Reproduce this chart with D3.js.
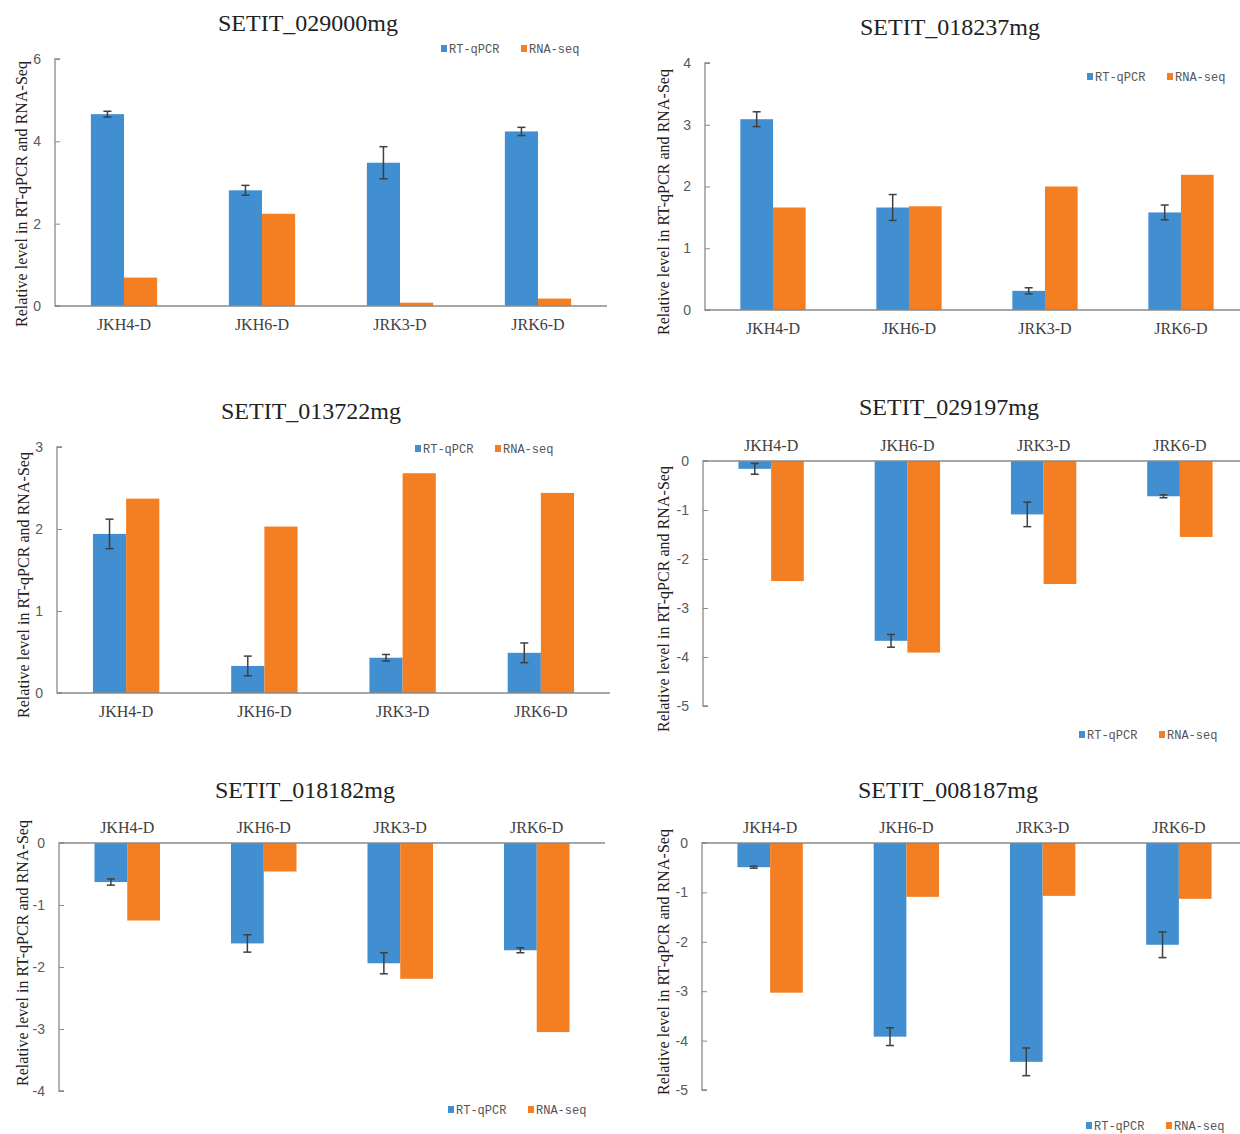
<!DOCTYPE html>
<html>
<head>
<meta charset="utf-8">
<script src="https://cdn.jsdelivr.net/npm/d3@7"></script>
<style>
  body { margin: 0; background: #fff; }
  svg { display: block; }
</style>
</head>
<body>
<script>
// data
const categories = ["JKH4-D", "JKH6-D", "JRK3-D", "JRK6-D"];
const seriesNames = ["RT-qPCR", "RNA-seq"];
const genes = ["SETIT_029000mg", "SETIT_018237mg", "SETIT_013722mg", "SETIT_029197mg", "SETIT_018182mg", "SETIT_008187mg"];

const qpcr029000 = [4.66, 2.81, 3.48, 4.24];
const rnaseq029000 = [0.69, 2.24, 0.08, 0.18];
const err029000 = [0.07, 0.12, 0.39, 0.10];

const qpcr018237 = [3.09, 1.66, 0.31, 1.58];
const rnaseq018237 = [1.66, 1.68, 2.00, 2.19];
const err018237 = [0.12, 0.21, 0.05, 0.12];

const qpcr013722 = [1.94, 0.33, 0.43, 0.49];
const rnaseq013722 = [2.37, 2.03, 2.68, 2.44];
const err013722 = [0.18, 0.12, 0.04, 0.12];

const qpcr029197 = [-0.16, -3.67, -1.09, -0.72];
const rnaseq029197 = [-2.45, -3.91, -2.51, -1.55];
const err029197 = [0.11, 0.13, 0.25, 0.03];

const qpcr018182 = [-0.63, -1.62, -1.94, -1.73];
const rnaseq018182 = [-1.25, -0.46, -2.19, -3.05];
const err018182 = [0.05, 0.14, 0.17, 0.04];

const qpcr008187 = [-0.49, -3.92, -4.43, -2.06];
const rnaseq008187 = [-3.03, -1.09, -1.07, -1.13];
const err008187 = [0.02, 0.18, 0.28, 0.26];

const yTicks029000 = [0, 2, 4, 6];
const yTicks018237 = [0, 1, 2, 3, 4];
const yTicks013722 = [0, 1, 2, 3];
const yTicks029197 = [0, -1, -2, -3, -4, -5];
const yTicks018182 = [0, -1, -2, -3, -4];
const yTicks008187 = [0, -1, -2, -3, -4, -5];

const yLabel = "Relative  level  in  RT-qPCR and RNA-Seq";
const colors = ["#418fd1", "#f47e22"];

// layout of each panel (pixels)
const panels = [
  {gene: genes[0], q: qpcr029000, r: rnaseq029000, e: err029000, ticks: yTicks029000, dom: [0, 6],
   x0: 55, x1: 607, yB: 306, yT: 59, titleX: 308, titleY: 31, labY: 194, labX: 27, legX: 441, legY: 49},
  {gene: genes[1], q: qpcr018237, r: rnaseq018237, e: err018237, ticks: yTicks018237, dom: [0, 4],
   x0: 705, x1: 1249, yB: 310, yT: 63, titleX: 950, titleY: 35, labY: 202, labX: 669, legX: 1087, legY: 77},
  {gene: genes[2], q: qpcr013722, r: rnaseq013722, e: err013722, ticks: yTicks013722, dom: [0, 3],
   x0: 57, x1: 610, yB: 693, yT: 447, titleX: 311, titleY: 419, labY: 585, labX: 29, legX: 415, legY: 449},
  {gene: genes[3], q: qpcr029197, r: rnaseq029197, e: err029197, ticks: yTicks029197, dom: [-5, 0],
   x0: 703, x1: 1248, yB: 706, yT: 461, titleX: 949, titleY: 415, labY: 599, labX: 669, legX: 1079, legY: 735},
  {gene: genes[4], q: qpcr018182, r: rnaseq018182, e: err018182, ticks: yTicks018182, dom: [-4, 0],
   x0: 59, x1: 605, yB: 1091, yT: 843, titleX: 305, titleY: 798, labY: 953, labX: 28, legX: 448, legY: 1110},
  {gene: genes[5], q: qpcr008187, r: rnaseq008187, e: err008187, ticks: yTicks008187, dom: [-5, 0],
   x0: 702, x1: 1247, yB: 1090, yT: 843, titleX: 948, titleY: 798, labY: 962, labX: 669, legX: 1086, legY: 1126}
];

const svg = d3.select("body").append("svg")
  .attr("width", 1240).attr("height", 1134)
  .attr("viewBox", [0, 0, 1240, 1134]);

panels.forEach(p => {
  const g = svg.append("g");
  const x = d3.scaleBand().domain(categories).range([p.x0, p.x1]).paddingInner(0.52).paddingOuter(0.26);
  const xs = d3.scaleBand().domain(seriesNames).range([0, x.bandwidth()]);
  const y = d3.scaleLinear().domain(p.dom).range([p.yB, p.yT]);
  const zero = y(0);
  const neg = p.dom[1] <= 0;

  const rows = categories.map((c, i) => ({cat: c, vals: [p.q[i], p.r[i]], err: p.e[i]}));

  // bars
  const grp = g.selectAll("g.grp").data(rows).join("g")
    .attr("transform", d => `translate(${x(d.cat)},0)`);
  grp.selectAll("rect").data(d => d.vals.map((v, k) => ({s: seriesNames[k], v, k})))
    .join("rect")
    .attr("x", d => xs(d.s))
    .attr("width", xs.bandwidth())
    .attr("y", d => Math.min(y(d.v), zero))
    .attr("height", d => Math.abs(y(d.v) - zero))
    .attr("fill", d => colors[d.k]);

  // error bars on RT-qPCR
  const eb = grp.append("g").attr("stroke", "#3f3f3f").attr("stroke-width", 1.5);
  eb.append("line")
    .attr("x1", xs("RT-qPCR") + xs.bandwidth() / 2).attr("x2", xs("RT-qPCR") + xs.bandwidth() / 2)
    .attr("y1", d => y(d.vals[0] + d.err)).attr("y2", d => y(d.vals[0] - d.err));
  [1, -1].forEach(sg => {
    eb.append("line")
      .attr("x1", xs("RT-qPCR") + xs.bandwidth() / 2 - 4).attr("x2", xs("RT-qPCR") + xs.bandwidth() / 2 + 4)
      .attr("y1", d => y(d.vals[0] + sg * d.err)).attr("y2", d => y(d.vals[0] + sg * d.err));
  });

  // y axis
  const ya = g.append("g").attr("transform", `translate(${p.x0},0)`)
    .call(d3.axisRight(y).tickValues(p.ticks).tickSize(5).tickFormat(d3.format("d")));
  ya.select(".domain").attr("stroke", "#8a8a8a").attr("stroke-width", 1.3).attr("d", `M5,${p.yT}H0V${p.yB}H5`);
  ya.selectAll(".tick line").attr("stroke", "#8a8a8a");
  ya.selectAll(".tick text").attr("x", -14).attr("text-anchor", "end")
    .attr("fill", "#595959").style("font-family", "Liberation Sans, Arial, sans-serif").style("font-size", "14px")
    .text(d => d < 0 ? "-" + Math.abs(d) : d);

  // x axis (category axis at zero)
  const xa = g.append("g").attr("transform", `translate(0,${zero})`)
    .call(neg ? d3.axisTop(x).tickSize(0) : d3.axisBottom(x).tickSize(0));
  xa.select(".domain").attr("stroke", "#8a8a8a").attr("stroke-width", 1.3).attr("d", `M${p.x0},0H${p.x1}`);
  xa.selectAll(".tick text")
    .attr("y", neg ? -10 : 24).attr("dy", 0)
    .attr("fill", "#404040").style("font-family", "Liberation Serif, Times New Roman, serif").style("font-size", "16px");

  // title
  g.append("text").attr("x", p.titleX).attr("y", p.titleY).attr("text-anchor", "middle")
    .style("font-family", "Liberation Serif, Times New Roman, serif").style("font-size", "24px")
    .attr("fill", "#222").text(p.gene);

  // y label
  g.append("text")
    .attr("transform", `translate(${p.labX},${p.labY}) rotate(-90)`)
    .attr("text-anchor", "middle")
    .attr("textLength", 266).attr("lengthAdjust", "spacing")
    .style("font-family", "Liberation Serif, Times New Roman, serif").style("font-size", "16px")
    .attr("fill", "#222").text(yLabel);

  // legend
  const lg = g.append("g").attr("transform", `translate(${p.legX},${p.legY})`);
  seriesNames.forEach((s, k) => {
    const it = lg.append("g").attr("transform", `translate(${k * 80},0)`);
    it.append("rect").attr("x", 0).attr("y", -4).attr("width", 6).attr("height", 7).attr("fill", colors[k]);
    it.append("text").attr("x", 8).attr("y", 4)
      .style("font-family", "Liberation Mono, DejaVu Sans Mono, monospace").style("font-size", "12px")
      .attr("fill", "#555").text(s);
  });
});
</script>
</body>
</html>
